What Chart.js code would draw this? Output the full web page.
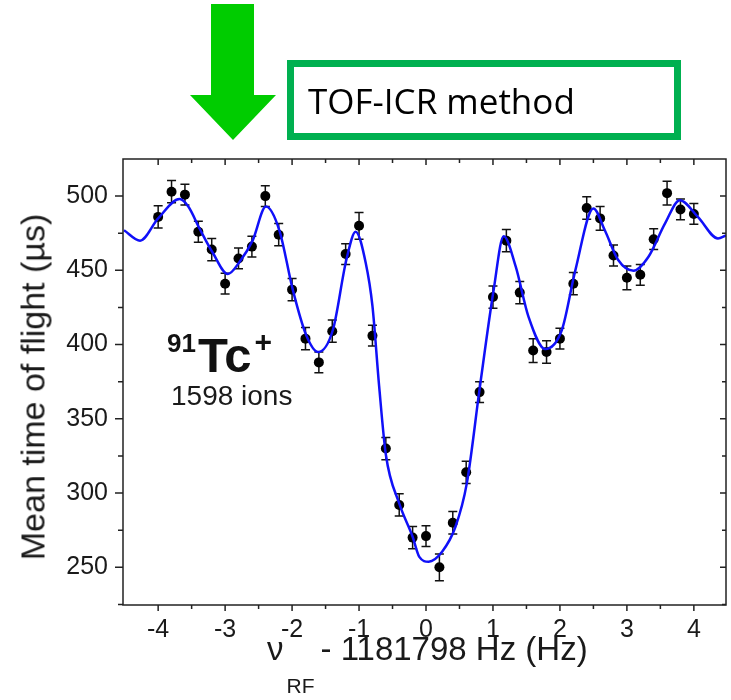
<!DOCTYPE html>
<html>
<head>
<meta charset="utf-8">
<script src="https://cdn.jsdelivr.net/npm/chart.js@4.4.1/dist/chart.umd.min.js"></script>
<style>
  body { margin: 0; background: #fff; }
  #wrap { position: relative; width: 731px; height: 700px; background: #fff; overflow: hidden; }
  #c { position: absolute; left: 0; top: 0; }
  .lbl { position: absolute; font-family: "Liberation Sans", Arial, sans-serif; color: #1a1a1a; white-space: nowrap; }
  #ytitle { left: 33px; top: 387px; font-size: 34px; transform: translate(-50%, -50%) rotate(-90deg); }
  #xtitle { left: 267px; top: 632px; font-size: 33px; line-height: 33px; }
  #xtitle sub { font-size: 21px; vertical-align: -33px; line-height: 0; margin: 0 6px 0 3px; }
  #iso { left: 167px; top: 331px; font-size: 49px; font-weight: bold; color: #111; line-height: 49px; }
  #iso sup { font-size: 26px; vertical-align: 20px; line-height: 0; margin-right: 2px; }
  #iso sup.plus { font-size: 30px; margin-left: 3px; }
  #ions { left: 171px; top: 380px; font-size: 28px; }
  #box { position: absolute; left: 287px; top: 60px; width: 394px; height: 80px; box-sizing: border-box;
         border: 7px solid #00B050; }
  #box span { position: absolute; left: 14px; top: 10px; font-family: "Open Sans", sans-serif; font-size: 35px; color: #000; }
  #arrow { position: absolute; left: 0; top: 0; }
</style>
</head>
<body>
<div id="wrap">
  <canvas id="c" width="731" height="700"></canvas>
  <svg id="arrow" width="300" height="150">
    <polygon points="211,4 254,4 254,95 276,95 233,140 190,95 211,95" fill="#00CC00"/>
  </svg>
  <div id="box"><span>TOF-ICR method</span></div>
  <div class="lbl" id="ytitle">Mean time of flight (µs)</div>
  <div class="lbl" id="xtitle">ν<sub>RF</sub>- 1181798 Hz (Hz)</div>
  <div class="lbl" id="iso"><sup>91</sup>Tc<sup class="plus">+</sup></div>
  <div class="lbl" id="ions">1598 ions</div>
</div>
<script>
// measured points (frequency offset in Hz, mean TOF in us, error)
var freq = [-4.0, -3.8, -3.6, -3.4, -3.2, -3.0, -2.8, -2.6, -2.4, -2.2, -2.0,
            -1.8, -1.6, -1.4, -1.2, -1.0, -0.8, -0.6, -0.4, -0.2, 0.0,
            0.2, 0.4, 0.6, 0.8, 1.0, 1.2, 1.4, 1.6, 1.8, 2.0,
            2.2, 2.4, 2.6, 2.8, 3.0, 3.2, 3.4, 3.6, 3.8, 4.0]
var tof = [486, 503, 501, 476, 464, 441, 458, 466, 500, 474, 437,
           404, 388, 409, 461, 480, 406, 330, 292, 270, 271,
           250, 280, 314, 368, 432, 470, 435, 396, 395, 404,
           441, 492, 485, 460, 445, 447, 471, 502, 491, 488]
var tofErr = [7.5, 7.5, 7, 7, 7.5, 7, 7, 7, 7, 7.5, 7.5,
              7.5, 7, 7.5, 7, 9, 7, 7.5, 7.5, 7.5, 7,
              9, 7.5, 7.5, 7, 7.5, 7.5, 7.5, 8, 7.5, 7,
              7.5, 7.5, 8, 7, 8, 7, 7, 8, 7, 7]

// fit curve
var fitX = [-4.51, -4.27, -4.0, -3.68, -3.55, -3.38, -3.18, -2.96, -2.78, -2.59, -2.39,
            -2.19, -1.99, -1.79, -1.61, -1.39, -1.19, -1.05, -0.90, -0.80, -0.70,
            -0.60, -0.40, -0.20, -0.10, 0.04, 0.24, 0.44, 0.61, 0.80, 1.01,
            1.16, 1.34, 1.53, 1.78, 2.03, 2.23, 2.50, 2.67, 2.87, 3.10,
            3.32, 3.57, 3.79, 4.06, 4.36, 4.48]
var fitY = [477, 470, 485, 498, 493, 478, 461.5, 447.5, 456, 470, 493,
            477, 437, 406.5, 395, 410, 457, 476, 455, 426, 372,
            326, 293, 270.6, 257, 253.8, 260.5, 277.3, 306.7, 370, 436.8,
            473, 452.5, 418.8, 397, 410, 450, 491.7, 477, 457, 449.8,
            459, 481.6, 497.3, 486, 471.5, 473.5]

var xTicks = [-4, -3, -2, -1, 0, 1, 2, 3, 4]
var xMinor = [-3.5, -2.5, -1.5, -0.5, 0.5, 1.5, 2.5, 3.5]
var yTicks = [250, 300, 350, 400, 450, 500]
var yMinor = [225, 275, 325, 375, 425, 475]

var pts = []
for (var i = 0; i < freq.length; i++) pts.push({ x: freq[i], y: tof[i], e: tofErr[i] })
var fit = []
for (var i = 0; i < fitX.length; i++) fit.push({ x: fitX[i], y: fitY[i] })

var errorBars = {
    id: 'errorBars',
    beforeDatasetsDraw: function(chart) {
        var ctx = chart.ctx, x = chart.scales.x, y = chart.scales.y
        ctx.save()
        ctx.strokeStyle = '#111'
        ctx.lineWidth = 1.5
        pts.forEach(function(p) {
            var px = x.getPixelForValue(p.x)
            var top = y.getPixelForValue(p.y + p.e)
            var bot = y.getPixelForValue(p.y - p.e)
            ctx.beginPath()
            ctx.moveTo(px, top); ctx.lineTo(px, bot)
            ctx.moveTo(px - 4.5, top); ctx.lineTo(px + 4.5, top)
            ctx.moveTo(px - 4.5, bot); ctx.lineTo(px + 4.5, bot)
            ctx.stroke()
        })
        ctx.restore()
    }
}

var frame = {
    id: 'frame',
    afterDraw: function(chart) {
        var ctx = chart.ctx, a = chart.chartArea, x = chart.scales.x, y = chart.scales.y
        ctx.save()
        ctx.strokeStyle = '#222'
        ctx.lineWidth = 1.5
        ctx.strokeRect(a.left, a.top, a.right - a.left, a.bottom - a.top)
        ctx.beginPath()
        function xt(v, len) {
            var px = x.getPixelForValue(v)
            ctx.moveTo(px, a.bottom); ctx.lineTo(px, a.bottom + len)
            ctx.moveTo(px, a.top); ctx.lineTo(px, a.top + len)
        }
        function yt(v, len, outLen) {
            var py = y.getPixelForValue(v)
            ctx.moveTo(a.left - outLen, py); ctx.lineTo(a.left, py)
            ctx.moveTo(a.right, py); ctx.lineTo(a.right - len, py)
        }
        xTicks.forEach(function(v) { xt(v, 6) })
        xMinor.forEach(function(v) { xt(v, 4) })
        yTicks.forEach(function(v) { yt(v, 6, 8) })
        yMinor.forEach(function(v) { yt(v, 4, 5) })
        ctx.stroke()
        ctx.restore()
    }
}

var tickFont = { family: 'Liberation Sans', size: 25 }

new Chart(document.getElementById('c'), {
    type: 'scatter',
    data: {
        datasets: [{
            label: 'fit',
            data: fit,
            showLine: true,
            borderColor: '#1010F8',
            borderWidth: 2.5,
            pointRadius: 0,
            cubicInterpolationMode: 'monotone',
            order: 0
        }, {
            label: 'data',
            data: pts,
            backgroundColor: '#000',
            borderColor: '#000',
            pointRadius: 5,
            borderWidth: 0,
            order: 1
        }]
    },
    options: {
        responsive: false,
        animation: false,
        devicePixelRatio: 1,
        layout: { padding: { top: 159, right: 3, left: 0, bottom: 0 } },
        plugins: { legend: { display: false }, tooltip: { enabled: false } },
        scales: {
            x: {
                type: 'linear', min: -4.525, max: 4.48,
                grid: { display: false, drawTicks: false },
                border: { display: false },
                ticks: { font: tickFont, color: '#1a1a1a', padding: 10, maxRotation: 0, autoSkip: false },
                afterBuildTicks: function(s) { s.ticks = xTicks.map(function(v) { return { value: v } }) },
                afterFit: function(s) { s.height = 95 }
            },
            y: {
                type: 'linear', min: 224.6, max: 525,
                grid: { display: false, drawTicks: false },
                border: { display: false },
                ticks: { font: tickFont, color: '#1a1a1a', padding: 15 },
                afterBuildTicks: function(s) { s.ticks = yTicks.map(function(v) { return { value: v } }) },
                afterFit: function(s) { s.width = 123 }
            }
        }
    },
    plugins: [errorBars, frame]
})
</script>
</body>
</html>
